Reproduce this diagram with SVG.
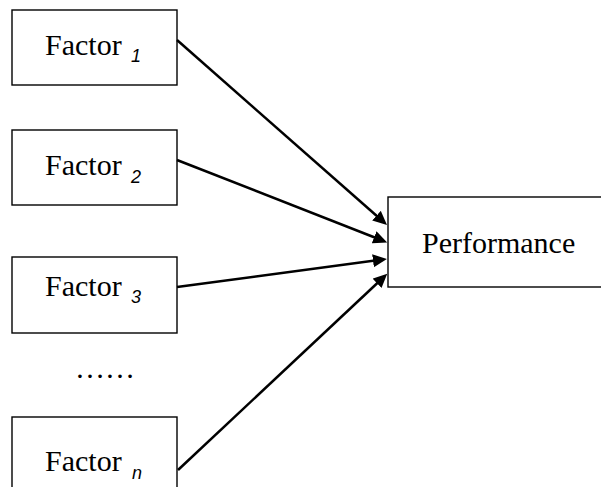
<svg xmlns="http://www.w3.org/2000/svg" width="601" height="487" viewBox="0 0 601 487">
<style>
.box{fill:#fff;stroke:#000;stroke-width:1.4}
.lbl{font-family:"Liberation Serif","Times New Roman",serif;font-size:30px;fill:#000}
.sub{font-family:"Liberation Sans",Arial,sans-serif;font-style:italic;font-size:18px;fill:#000}
.conn line{stroke:#000;stroke-width:2.5;marker-end:url(#ah)}
</style>
<defs>
<marker id="ah" markerUnits="userSpaceOnUse" markerWidth="16" markerHeight="14" refX="2" refY="6.5" orient="auto">
<path d="M0,0 L14,6.5 L0,13 z" fill="#000"/>
</marker>
</defs>
<rect width="601" height="487" fill="#fff"/>
<g id="f1">
<rect class="box" x="12" y="10" width="165" height="75"/>
<text class="lbl" x="45" y="55">Factor</text>
<text class="sub" x="131" y="62">1</text>
</g>
<g id="f2">
<rect class="box" x="12" y="130" width="165" height="75"/>
<text class="lbl" x="45" y="175">Factor</text>
<text class="sub" x="131" y="183">2</text>
</g>
<g id="f3">
<rect class="box" x="12" y="257" width="165" height="76"/>
<text class="lbl" x="45" y="296">Factor</text>
<text class="sub" x="131" y="303">3</text>
</g>
<g id="dots">
<text class="lbl" x="75" y="378">……</text>
</g>
<g id="fn">
<rect class="box" x="12" y="417" width="165" height="80"/>
<text class="lbl" x="45" y="471">Factor</text>
<text class="sub" x="132" y="479">n</text>
</g>
<g id="perf">
<rect class="box" x="388" y="197" width="230" height="90"/>
<text class="lbl" x="422" y="253">Performance</text>
</g>
<g id="connectors" class="conn">
<line x1="177" y1="40" x2="378" y2="217"/>
<line x1="177" y1="160" x2="376" y2="238"/>
<line x1="177" y1="287" x2="375" y2="260.5"/>
<line x1="178" y1="470" x2="378.5" y2="282"/>
</g>
</svg>
